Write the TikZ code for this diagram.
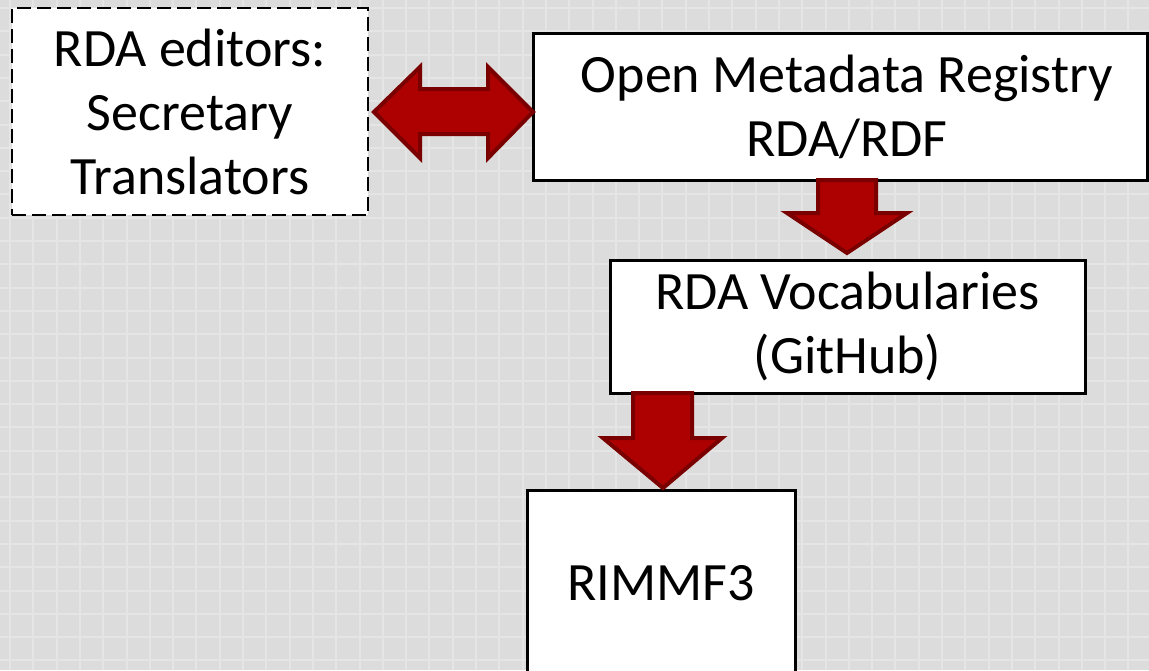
\documentclass[tikz,border=0pt]{standalone}
\usepackage{fontspec}
\setmainfont{Carlito}
\definecolor{bgc}{HTML}{DCDCDC}
\definecolor{gridc}{HTML}{E5E5E5}
\definecolor{arrfill}{HTML}{AD0000}
\definecolor{arrline}{HTML}{7A0000}
\tikzset{
  box/.style={draw=black, fill=white, line width=3pt, align=center, inner sep=0pt,
    font=\fontsize{54}{64}\selectfont},
  dbox/.style={box, line width=2.5pt, dash pattern=on 14pt off 6pt},
  blockarrow/.style={draw=arrline, fill=arrfill, line width=4pt, line join=miter}
}
\begin{document}
\begin{tikzpicture}[x=1pt,y=-1pt]
\useasboundingbox (0,0) rectangle (1149,670);
\clip (0,0) rectangle (1149,670);
\fill[bgc] (0,0) rectangle (1149,670);
\foreach \i in {0,...,50} {
  \draw[gridc, line width=2pt] (10+\i*23.3,0) -- (10+\i*23.3,670);
  \draw[gridc, line width=2pt] (0,8+\i*23.3) -- (1149,8+\i*23.3);
}
% boxes
\node[dbox, minimum width=356pt, minimum height=207pt] (edit) at (190,111.5) {RDA editors:\\Secretary\\Translators};
\node[box, minimum width=614pt, minimum height=147pt] (omr) at (840,106.5) {\hspace*{14pt}Open Metadata Registry\\\hspace*{14pt}RDA/RDF};
\node[box, minimum width=475pt, minimum height=133pt] (voc) at (847.5,326.5) {RDA Vocabularies\\(GitHub)};
\node[box, minimum width=268pt, minimum height=186pt] (rim) at (661,583) {RIMMF3};
% double arrow between edit and omr
\draw[blockarrow] (374,112) -- (420,67) -- (420,89) -- (488,89) -- (488,67) -- (533,112)
  -- (488,158) -- (488,134) -- (420,134) -- (420,158) -- cycle;
% down arrow omr -> voc
\draw[blockarrow] (818,180) -- (876,180) -- (876,213) -- (907,213) -- (847,253)
  -- (787,213) -- (818,213) -- cycle;
% down arrow voc -> rim
\draw[blockarrow] (633,393) -- (692,393) -- (692,438) -- (722,438) -- (663,488)
  -- (603,438) -- (633,438) -- cycle;
\end{tikzpicture}
\end{document}
